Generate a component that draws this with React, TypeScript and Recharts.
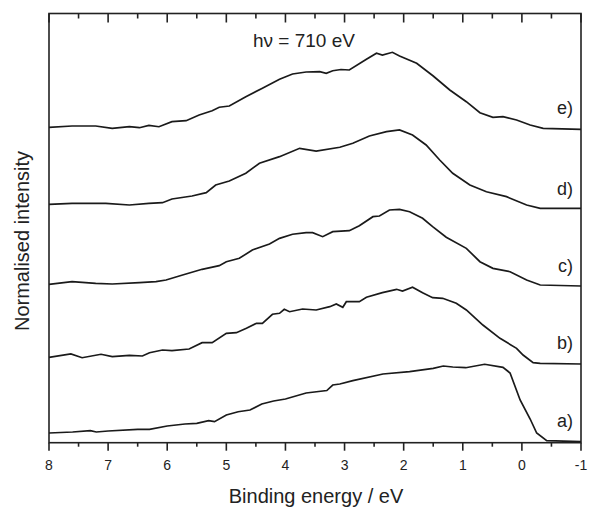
import React from 'react';
import { LineChart, Line, XAxis, YAxis } from 'recharts';

// binding energy (eV) / stacked normalised intensity
const energyA = [8, 7.6, 7.3, 7.2, 7, 6.5, 6.3, 6, 5.7, 5.5, 5.3, 5.2, 5, 4.8, 4.6, 4.4, 4.2, 4, 3.65, 3.3, 3.2, 3.08, 2.86, 2.35, 1.9, 1.5, 1.33, 1.17, 0.95, 0.63, 0.32, 0.2, 0.03, -0.14, -0.25, -0.42, -1];
const intensityA = [0.226, 0.249, 0.28, 0.249, 0.273, 0.312, 0.312, 0.389, 0.436, 0.452, 0.513, 0.489, 0.645, 0.722, 0.762, 0.902, 0.972, 1.018, 1.158, 1.216, 1.344, 1.368, 1.445, 1.601, 1.654, 1.733, 1.787, 1.764, 1.747, 1.827, 1.757, 1.624, 0.995, 0.552, 0.226, 0.047, 0.023];

const energyB = [8, 7.63, 7.44, 7.12, 6.93, 6.64, 6.42, 6.3, 6.08, 5.92, 5.63, 5.41, 5.24, 5, 4.83, 4.66, 4.49, 4.39, 4.22, 4.1, 4.02, 3.93, 3.71, 3.48, 3.25, 3.14, 3.03, 2.97, 2.75, 2.63, 2.36, 2.12, 2.02, 1.85, 1.68, 1.51, 1.34, 1.11, 0.94, 0.66, 0.37, 0.09, -0.02, -0.19, -0.31, -1];
const intensityB = [1.99, 2.067, 1.98, 2.06, 2.004, 2.036, 2.02, 2.097, 2.16, 2.144, 2.183, 2.33, 2.33, 2.549, 2.563, 2.665, 2.782, 2.782, 2.992, 3.015, 3.108, 3.052, 3.115, 3.092, 3.169, 3.232, 3.155, 3.285, 3.285, 3.388, 3.495, 3.574, 3.534, 3.621, 3.495, 3.378, 3.364, 3.248, 3.092, 2.742, 2.432, 2.199, 2.043, 1.864, 1.85, 1.834];

const energyC = [8, 7.61, 7.21, 6.93, 6.47, 6.19, 6.02, 5.74, 5.41, 5.12, 5, 4.78, 4.56, 4.27, 4.1, 3.88, 3.65, 3.54, 3.37, 3.2, 2.92, 2.75, 2.52, 2.41, 2.24, 2.07, 1.9, 1.68, 1.51, 1.28, 0.94, 0.71, 0.49, 0.2, -0.08, -0.31, -1];
const intensityC = [3.691, 3.751, 3.714, 3.698, 3.728, 3.751, 3.791, 3.907, 4.04, 4.124, 4.217, 4.296, 4.49, 4.63, 4.762, 4.856, 4.893, 4.893, 4.8, 4.916, 4.939, 5.056, 5.266, 5.282, 5.422, 5.438, 5.382, 5.228, 5.033, 4.786, 4.529, 4.217, 4.063, 3.984, 3.791, 3.674, 3.651];

const energyD = [8, 7.61, 7.04, 6.64, 6.31, 6.08, 5.92, 5.58, 5.34, 5.18, 4.95, 4.67, 4.44, 4.1, 3.76, 3.48, 3.08, 2.86, 2.58, 2.29, 2.07, 1.85, 1.62, 1.39, 1.17, 0.88, 0.6, 0.26, -0.08, -0.31, -1];
const intensityD = [5.555, 5.578, 5.578, 5.538, 5.578, 5.592, 5.678, 5.748, 5.825, 6.004, 6.097, 6.277, 6.51, 6.664, 6.859, 6.796, 6.883, 6.976, 7.146, 7.246, 7.286, 7.169, 6.936, 6.587, 6.277, 6.004, 5.848, 5.732, 5.538, 5.461, 5.461];

const energyE = [8, 7.61, 7.21, 6.93, 6.64, 6.47, 6.31, 6.14, 5.92, 5.68, 5.46, 5.24, 5.12, 4.95, 4.67, 4.39, 4.1, 3.88, 3.65, 3.42, 3.31, 3.2, 3.06, 2.92, 2.63, 2.46, 2.36, 2.19, 2.07, 1.78, 1.5, 1.22, 0.94, 0.71, 0.49, 0.32, 0.09, -0.14, -0.36, -1];
const intensityE = [7.349, 7.379, 7.379, 7.325, 7.362, 7.339, 7.395, 7.362, 7.479, 7.502, 7.635, 7.735, 7.815, 7.845, 8.062, 8.257, 8.467, 8.59, 8.637, 8.644, 8.607, 8.667, 8.695, 8.684, 8.933, 9.073, 9.033, 9.096, 9.01, 8.84, 8.544, 8.218, 7.945, 7.689, 7.582, 7.596, 7.519, 7.402, 7.325, 7.302];

const curveLabels = ['a)', 'b)', 'c)', 'd)', 'e)'];
const xTicks = [8, 7.5, 7, 6.5, 6, 5.5, 5, 4.5, 4, 3.5, 3, 2.5, 2, 1.5, 1, 0.5, 0, -0.5, -1];

const toRows = (xs: number[], ys: number[]) => xs.map((e, i) => ({ e, v: ys[i] }));

const spectra = [
  toRows(energyA, intensityA),
  toRows(energyB, intensityB),
  toRows(energyC, intensityC),
  toRows(energyD, intensityD),
  toRows(energyE, intensityE),
];

const INK = '#222';
const FONT = '"Liberation Sans", Arial, sans-serif';

// layout of the plot box
const W = 589;
const H = 509;
const LEFT = 49;
const TOP = 13.5;
const PLOT_W = 532;
const PLOT_H = 429.2;
const X_AXIS_H = 46;

// outward ticks + labels on the bottom, inward mirror ticks on the top edge
const BottomTick = ({ x, y, payload }: any) => {
  const major = Number.isInteger(payload.value);
  const top = y - PLOT_H;
  return (
    <g>
      <line x1={x} x2={x} y1={y} y2={y + (major ? 8 : 4)} stroke={INK} strokeWidth={1.6} />
      <line x1={x} x2={x} y1={top} y2={top + (major ? 9 : 5)} stroke={INK} strokeWidth={1.6} />
      {major && (
        <text x={x} y={y + 27} textAnchor="middle" fontSize={14} fontFamily={FONT} fill={INK}>
          {payload.value}
        </text>
      )}
    </g>
  );
};

// baselines of the a)..e) tags, in px
const labelY = [427, 349, 272, 195, 114];

export default function App() {
  return (
    <div style={{ position: 'absolute', left: 0, top: 0, width: W, height: H, background: '#fff' }}>
      <LineChart
        width={W}
        height={H}
        margin={{ top: TOP, left: LEFT - 1, right: W - LEFT - PLOT_W, bottom: H - TOP - PLOT_H - X_AXIS_H }}
      >
        <rect x={LEFT} y={TOP} width={PLOT_W} height={PLOT_H} fill="none" stroke={INK} strokeWidth={1.6} />
        <XAxis
          type="number"
          dataKey="e"
          domain={[-1, 8]}
          reversed
          ticks={xTicks}
          interval={0}
          tickSize={0}
          tickMargin={0}
          tickLine={false}
          tick={<BottomTick />}
          height={X_AXIS_H}
          axisLine={false}
        />
        <YAxis type="number" domain={[0, 10]} width={1} tick={false} tickLine={false} axisLine={false} />
        {spectra.map((rows, i) => (
          <Line
            key={curveLabels[i]}
            data={rows}
            dataKey="v"
            type="linear"
            stroke="#1a1a1a"
            strokeWidth={1.7}
            dot={false}
            isAnimationActive={false}
          />
        ))}
        {curveLabels.map((t, i) => (
          <text key={t} x={573} y={labelY[i]} textAnchor="end" fontSize={18} fontFamily={FONT} fill={INK}>
            {t}
          </text>
        ))}
        <text x={304} y={47} textAnchor="middle" fontSize={19} fontFamily={FONT} fill={INK}>
          hν = 710 eV
        </text>
        <text x={316} y={503} textAnchor="middle" fontSize={20} fontFamily={FONT} fill={INK}>
          Binding energy / eV
        </text>
        <text x={29} y={241} textAnchor="middle" fontSize={20} fontFamily={FONT} fill={INK} transform="rotate(-90, 29, 241)">
          Normalised intensity
        </text>
      </LineChart>
    </div>
  );
}
